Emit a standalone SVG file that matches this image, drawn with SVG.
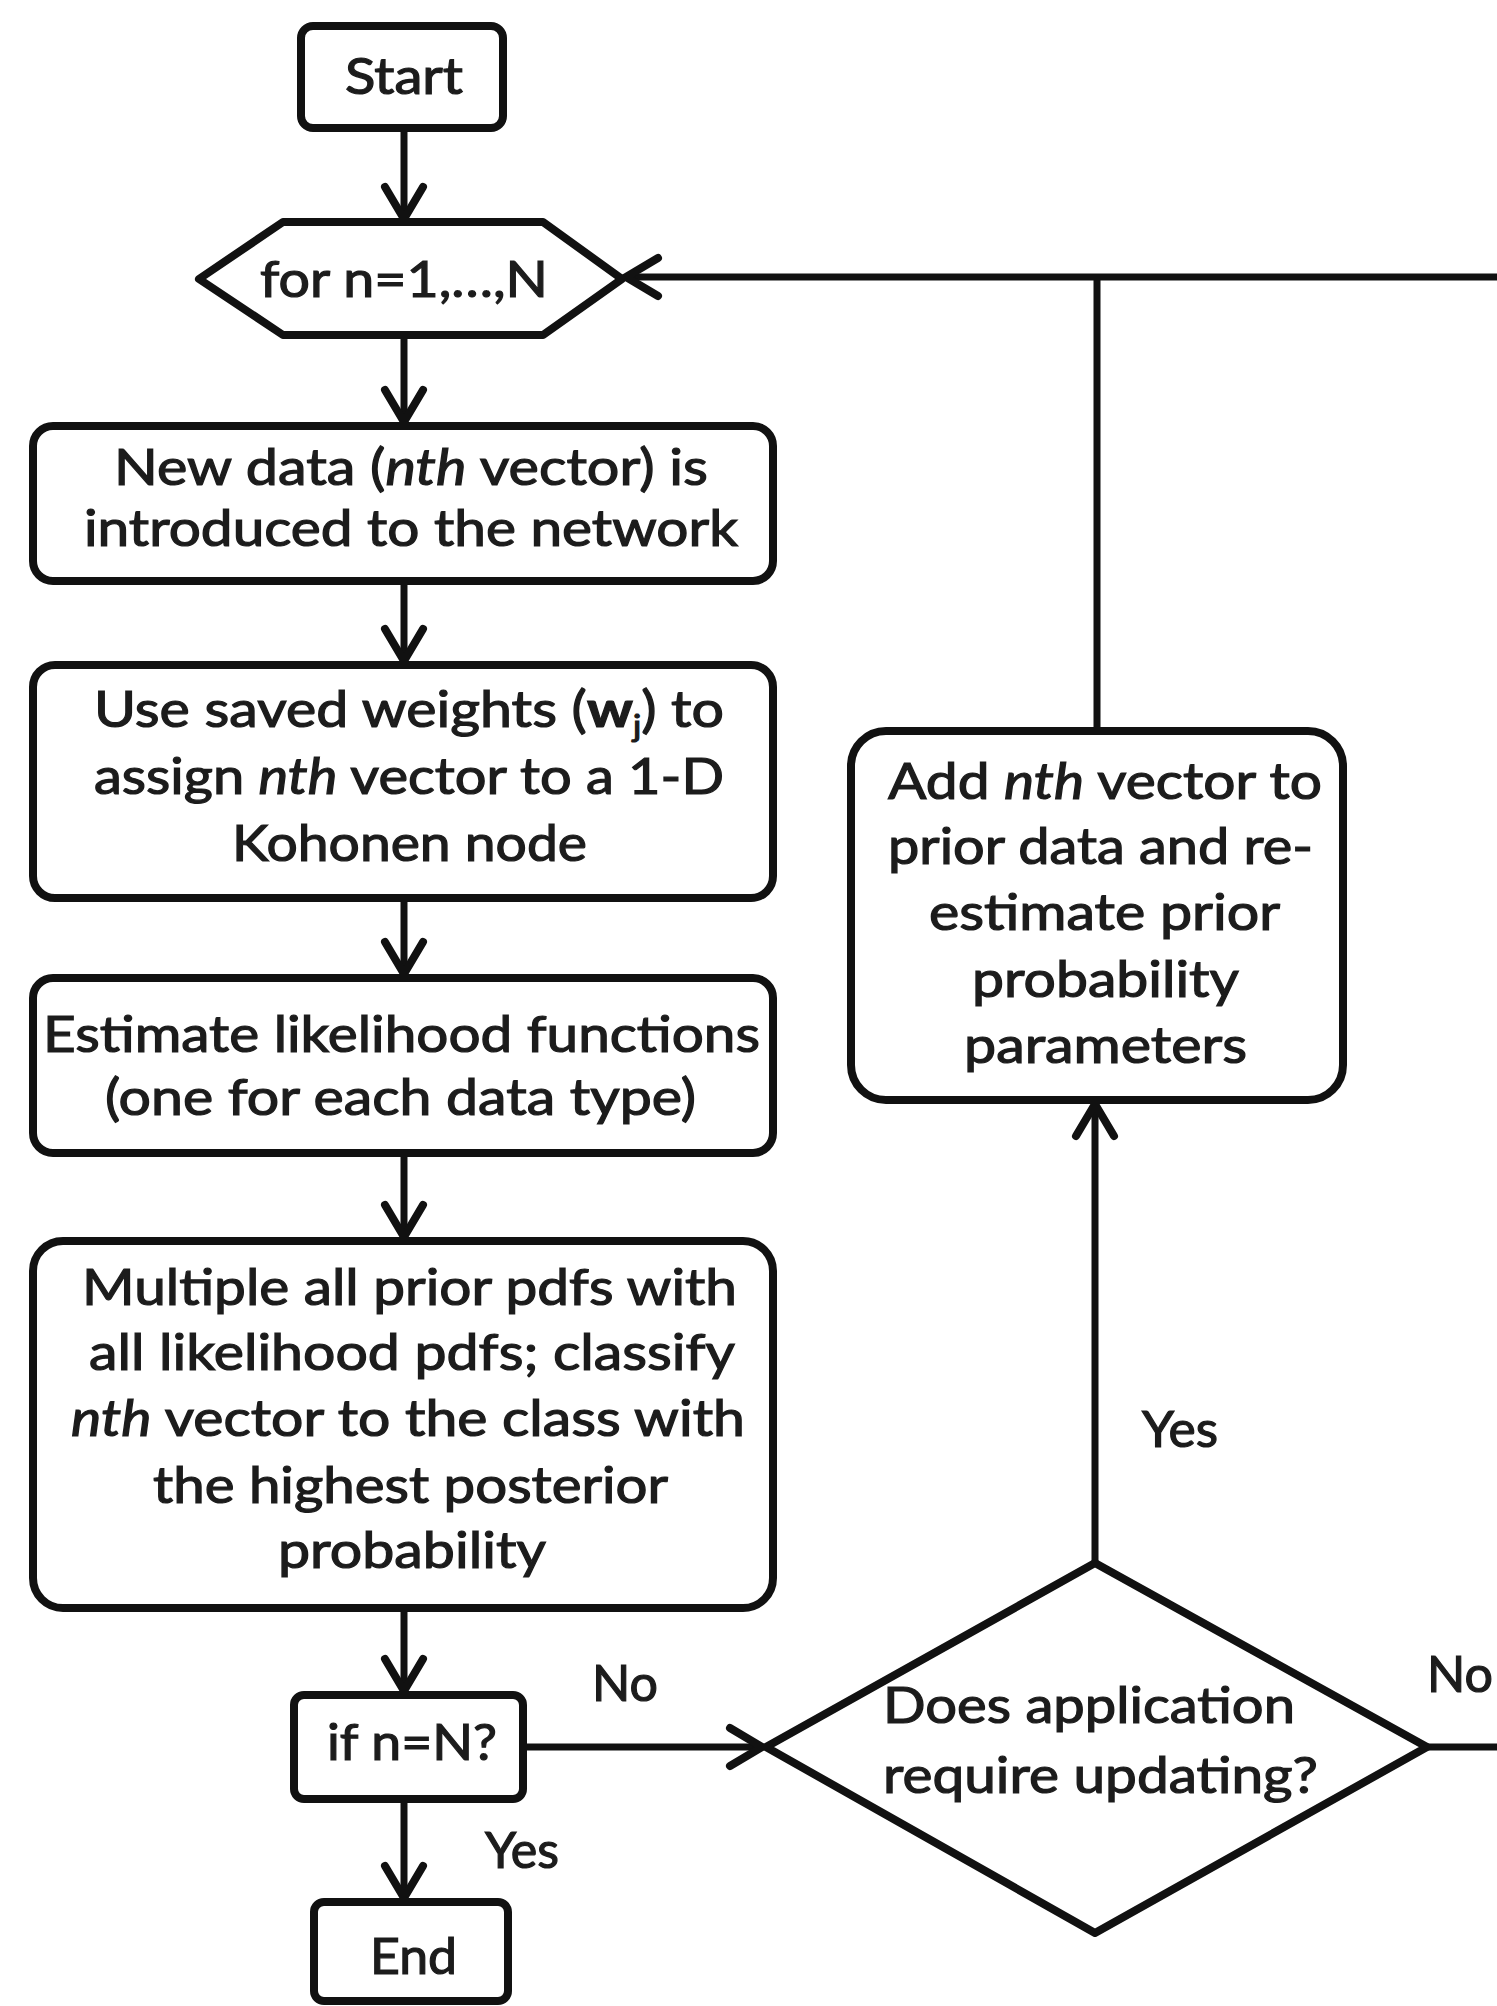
<svg xmlns="http://www.w3.org/2000/svg" width="1497" height="2006" viewBox="0 0 1497 2006">
  <defs>
    <style>
      .shape { fill: #ffffff; stroke: #111111; stroke-width: 8; stroke-linejoin: round; }
      .wire { fill: none; stroke: #111111; stroke-width: 7; }
      .lbl { font-family: Lato, "Open Sans", "Liberation Sans", sans-serif; font-size: 50px; fill: #1c1c1c; stroke: #1c1c1c; stroke-width: 1.2px; }
      .it { font-style: italic; }
    </style>
    <marker id="head" markerUnits="userSpaceOnUse" markerWidth="60" markerHeight="60" refX="0" refY="0" viewBox="-40 -30 50 60" orient="auto" overflow="visible">
      <path d="M -32 -19 L 0 0 L -32 19" fill="none" stroke="#111111" stroke-width="8" stroke-linecap="round" stroke-linejoin="miter"/>
    </marker>
  </defs>

  <rect width="1497" height="2006" fill="#ffffff"/>

  <!-- connectors -->
  <g id="connectors">
    <line class="wire" x1="404" y1="128" x2="404" y2="219" marker-end="url(#head)"/>
    <line class="wire" x1="404" y1="335" x2="404" y2="422" marker-end="url(#head)"/>
    <line class="wire" x1="404" y1="581" x2="404" y2="661" marker-end="url(#head)"/>
    <line class="wire" x1="404" y1="898" x2="404" y2="974" marker-end="url(#head)"/>
    <line class="wire" x1="404" y1="1153" x2="404" y2="1237" marker-end="url(#head)"/>
    <line class="wire" x1="404" y1="1608" x2="404" y2="1691" marker-end="url(#head)"/>
    <line class="wire" x1="404" y1="1799" x2="404" y2="1898" marker-end="url(#head)"/>
    <line class="wire" x1="523" y1="1747" x2="762" y2="1747" marker-end="url(#head)"/>
    <line class="wire" x1="1095" y1="1563" x2="1095" y2="1104" marker-end="url(#head)"/>
    <line class="wire" x1="1097" y1="731" x2="1097" y2="277"/>
    <line class="wire" x1="1497" y1="277" x2="626" y2="277" marker-end="url(#head)"/>
    <line class="wire" x1="1428" y1="1747" x2="1497" y2="1747"/>
    <text class="lbl" x="592" y="1701" textLength="66" lengthAdjust="spacingAndGlyphs">No</text>
    <text class="lbl" x="485" y="1868" textLength="74" lengthAdjust="spacingAndGlyphs">Yes</text>
    <text class="lbl" x="1142" y="1447" textLength="76" lengthAdjust="spacingAndGlyphs">Yes</text>
    <text class="lbl" x="1427" y="1692" textLength="66" lengthAdjust="spacingAndGlyphs">No</text>
  </g>

  <!-- terminal: start -->
  <g id="start">
    <rect class="shape" x="301" y="26" width="202" height="102" rx="12"/>
    <text class="lbl" x="345" y="94" textLength="118" lengthAdjust="spacingAndGlyphs">Start</text>
  </g>

  <!-- loop header -->
  <g id="loop">
    <polygon class="shape" points="199,279 283,222 543,222 622,279 543,335 283,335"/>
    <text class="lbl" x="260" y="297" textLength="288" lengthAdjust="spacingAndGlyphs">for n=1,…,N</text>
  </g>

  <g id="new-data">
    <rect class="shape" x="33" y="426" width="740" height="155" rx="20"/>
    <text class="lbl" x="114" y="485" textLength="594" lengthAdjust="spacingAndGlyphs">New data (<tspan class="it">nth</tspan> vector) is</text>
    <text class="lbl" x="84" y="546" textLength="654" lengthAdjust="spacingAndGlyphs">introduced to the network</text>
  </g>

  <g id="assign-node">
    <rect class="shape" x="33" y="665" width="740" height="233" rx="22"/>
    <text class="lbl" x="94" y="727" textLength="630" lengthAdjust="spacingAndGlyphs">Use saved weights (<tspan font-weight="bold">w</tspan><tspan font-size="30" dy="10">j</tspan><tspan dy="-10">) to</tspan></text>
    <text class="lbl" x="94" y="794" textLength="630" lengthAdjust="spacingAndGlyphs">assign <tspan class="it">nth</tspan> vector to a 1-D</text>
    <text class="lbl" x="232" y="861" textLength="355" lengthAdjust="spacingAndGlyphs">Kohonen node</text>
  </g>

  <g id="likelihood">
    <rect class="shape" x="33" y="978" width="740" height="175" rx="20"/>
    <text class="lbl" x="43" y="1052" textLength="717" lengthAdjust="spacingAndGlyphs">Estimate likelihood functions</text>
    <text class="lbl" x="105" y="1115" textLength="591" lengthAdjust="spacingAndGlyphs">(one for each data type)</text>
  </g>

  <g id="classify">
    <rect class="shape" x="33" y="1241" width="740" height="367" rx="30"/>
    <text class="lbl" x="82" y="1305" textLength="655" lengthAdjust="spacingAndGlyphs">Multiple all prior pdfs with</text>
    <text class="lbl" x="89" y="1370" textLength="646" lengthAdjust="spacingAndGlyphs">all likelihood pdfs; classify</text>
    <text class="lbl" x="71" y="1436" textLength="674" lengthAdjust="spacingAndGlyphs"><tspan class="it">nth</tspan> vector to the class with</text>
    <text class="lbl" x="153" y="1503" textLength="515" lengthAdjust="spacingAndGlyphs">the highest posterior</text>
    <text class="lbl" x="278" y="1568" textLength="268" lengthAdjust="spacingAndGlyphs">probability</text>
  </g>

  <g id="check-last">
    <rect class="shape" x="294" y="1695" width="229" height="104" rx="10"/>
    <text class="lbl" x="327" y="1760" textLength="170" lengthAdjust="spacingAndGlyphs">if n=N?</text>
  </g>

  <g id="end">
    <rect class="shape" x="314" y="1902" width="194" height="99" rx="10"/>
    <text class="lbl" x="370" y="1974" textLength="87" lengthAdjust="spacingAndGlyphs">End</text>
  </g>

  <g id="update-prior">
    <rect class="shape" x="851" y="731" width="492" height="369" rx="35"/>
    <text class="lbl" x="888" y="799" textLength="434" lengthAdjust="spacingAndGlyphs">Add <tspan class="it">nth</tspan> vector to</text>
    <text class="lbl" x="888" y="864" textLength="425" lengthAdjust="spacingAndGlyphs">prior data and re-</text>
    <text class="lbl" x="929" y="930" textLength="351" lengthAdjust="spacingAndGlyphs">estimate prior</text>
    <text class="lbl" x="972" y="997" textLength="267" lengthAdjust="spacingAndGlyphs">probability</text>
    <text class="lbl" x="964" y="1063" textLength="283" lengthAdjust="spacingAndGlyphs">parameters</text>
  </g>

  <g id="needs-update">
    <polygon class="shape" points="766,1747 1095,1563 1427,1747 1095,1933"/>
    <text class="lbl" x="883" y="1723" textLength="412" lengthAdjust="spacingAndGlyphs">Does application</text>
    <text class="lbl" x="883" y="1793" textLength="435" lengthAdjust="spacingAndGlyphs">require updating?</text>
  </g>
</svg>
